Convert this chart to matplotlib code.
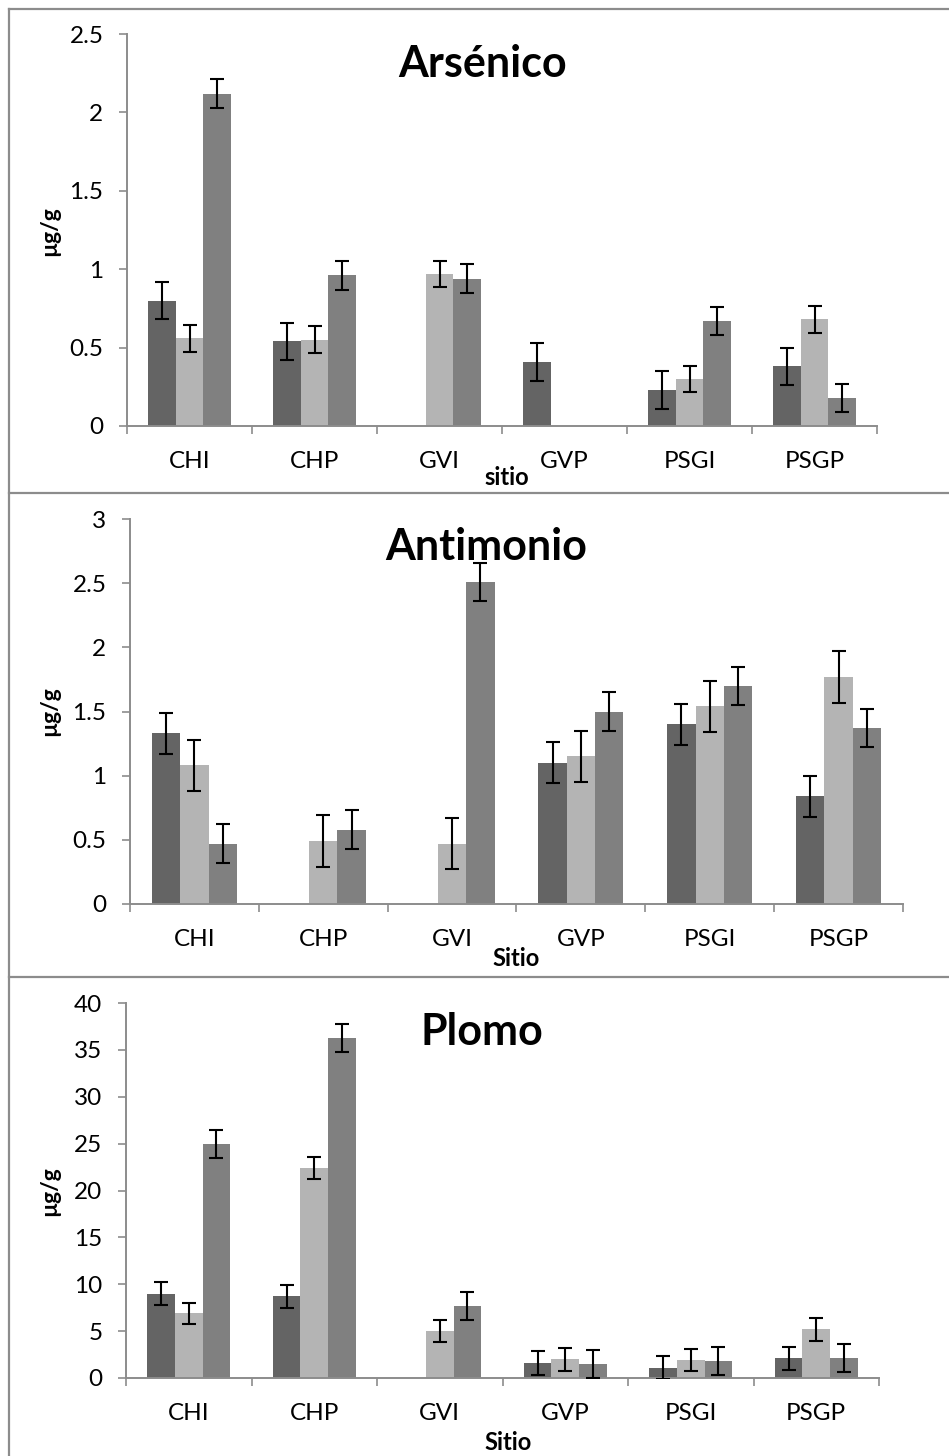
import matplotlib
matplotlib.use("Agg")
import matplotlib.pyplot as plt
from matplotlib.lines import Line2D
import numpy as np

plt.rcParams['font.family'] = ['Lato', 'DejaVu Sans']

# ------------------------------------------------
# Data
# ------------------------------------------------
sites = ["CHI", "CHP", "GVI", "GVP", "PSGI", "PSGP"]
nan = np.nan

as_s1 = [0.80, 0.54, nan, 0.41, 0.23, 0.38]
as_s2 = [0.56, 0.55, 0.97, nan, 0.30, 0.68]
as_s3 = [2.12, 0.96, 0.94, nan, 0.67, 0.18]
as_e1 = [0.12, 0.12, nan, 0.12, 0.12, 0.12]
as_e2 = [0.085, 0.085, 0.085, nan, 0.085, 0.085]
as_e3 = [0.09, 0.09, 0.09, nan, 0.09, 0.09]

sb_s1 = [1.33, nan, nan, 1.10, 1.40, 0.84]
sb_s2 = [1.08, 0.49, 0.47, 1.15, 1.54, 1.77]
sb_s3 = [0.47, 0.58, 2.51, 1.50, 1.70, 1.37]
sb_e1 = [0.16, nan, nan, 0.16, 0.16, 0.16]
sb_e2 = [0.20, 0.20, 0.20, 0.20, 0.20, 0.20]
sb_e3 = [0.15, 0.15, 0.15, 0.15, 0.15, 0.15]

pb_s1 = [9.0, 8.7, nan, 1.6, 1.1, 2.1]
pb_s2 = [6.9, 22.4, 5.0, 2.0, 1.9, 5.2]
pb_s3 = [25.0, 36.3, 7.7, 1.5, 1.85, 2.1]
pb_e1 = [1.2, 1.25, nan, 1.3, 1.25, 1.2]
pb_e2 = [1.15, 1.2, 1.2, 1.2, 1.2, 1.2]
pb_e3 = [1.5, 1.5, 1.5, 1.5, 1.5, 1.5]

bar_colors = ["#646464", "#b4b4b4", "#808080"]
axis_gray = "#8c8c8c"

W, H = 949, 1456
fig = plt.figure(figsize=(W / 100, H / 100), dpi=100)


def px_axes(left, right, top, bottom):
    return fig.add_axes([left / W, 1 - bottom / H, (right - left) / W, (bottom - top) / H])


def panel(ax, s1, s2, s3, e1, e2, e3, ymax, ystep, title, title_xy, xlabel, xlabel_xy, ylabel_xy):
    x = np.arange(len(sites))
    w = 0.22
    for i, (vals, errs) in enumerate(zip([s1, s2, s3], [e1, e2, e3])):
        pos = x + (i - 1) * w
        ax.bar(pos, vals, width=w, color=bar_colors[i], edgecolor="none", zorder=2)
        ax.errorbar(pos, vals, yerr=errs, fmt="none", ecolor="black",
                    elinewidth=1.5, capsize=5, capthick=1.5, zorder=3)
    ax.set_xlim(-0.5, len(sites) - 0.5)
    ax.set_ylim(0, ymax)
    ax.set_yticks(np.arange(0, ymax + ystep / 2, ystep))
    ax.yaxis.set_major_formatter(plt.FuncFormatter(lambda v, p: f"{v:g}"))
    ax.set_xticks(x)
    ax.set_xticklabels(sites)
    ax.set_xticks(np.arange(-0.5, len(sites)), minor=True)
    ax.tick_params(axis="x", which="major", length=0, pad=18, labelsize=17.5)
    ax.tick_params(axis="x", which="minor", length=6, width=1.2, color=axis_gray)
    ax.tick_params(axis="y", length=6, width=1.2, color=axis_gray, pad=11, labelsize=17.5)
    for s in ["top", "right"]:
        ax.spines[s].set_visible(False)
    for s in ["left", "bottom"]:
        ax.spines[s].set_color(axis_gray)
        ax.spines[s].set_linewidth(1.4)
    fig.text(title_xy[0] / W, 1 - title_xy[1] / H, title, fontsize=31,
             fontweight="bold", ha="center", va="baseline")
    fig.text(xlabel_xy[0] / W, 1 - xlabel_xy[1] / H, xlabel, fontsize=17,
             fontweight="bold", ha="center", va="center")
    fig.text(ylabel_xy[0] / W, 1 - ylabel_xy[1] / H, "µg/g", fontsize=16.5,
             fontweight="bold", ha="center", va="center", rotation=90)


ax1 = px_axes(127, 877, 34, 426)
panel(ax1, as_s1, as_s2, as_s3, as_e1, as_e2, as_e3, 2.5, 0.5,
      "Arsénico", (483, 77), "sitio", (507, 478), (50, 231))

ax2 = px_axes(130, 903, 519, 904)
panel(ax2, sb_s1, sb_s2, sb_s3, sb_e1, sb_e2, sb_e3, 3, 0.5,
      "Antimonio", (486, 560), "Sitio", (516, 959), (50, 711))

ax3 = px_axes(126, 879, 1003, 1378)
panel(ax3, pb_s1, pb_s2, pb_s3, pb_e1, pb_e2, pb_e3, 40, 5,
      "Plomo", (482, 1045), "Sitio", (508, 1443), (50, 1191))

# panel borders
border = dict(color=axis_gray, linewidth=1.6, transform=fig.transFigure)
fig.add_artist(Line2D([9 / W, 9 / W], [1 - 9 / H, 0], **border))
for yy in [9, 493, 977]:
    fig.add_artist(Line2D([9 / W, 1], [1 - yy / H, 1 - yy / H], **border))

fig.savefig("out.png", dpi=100)
